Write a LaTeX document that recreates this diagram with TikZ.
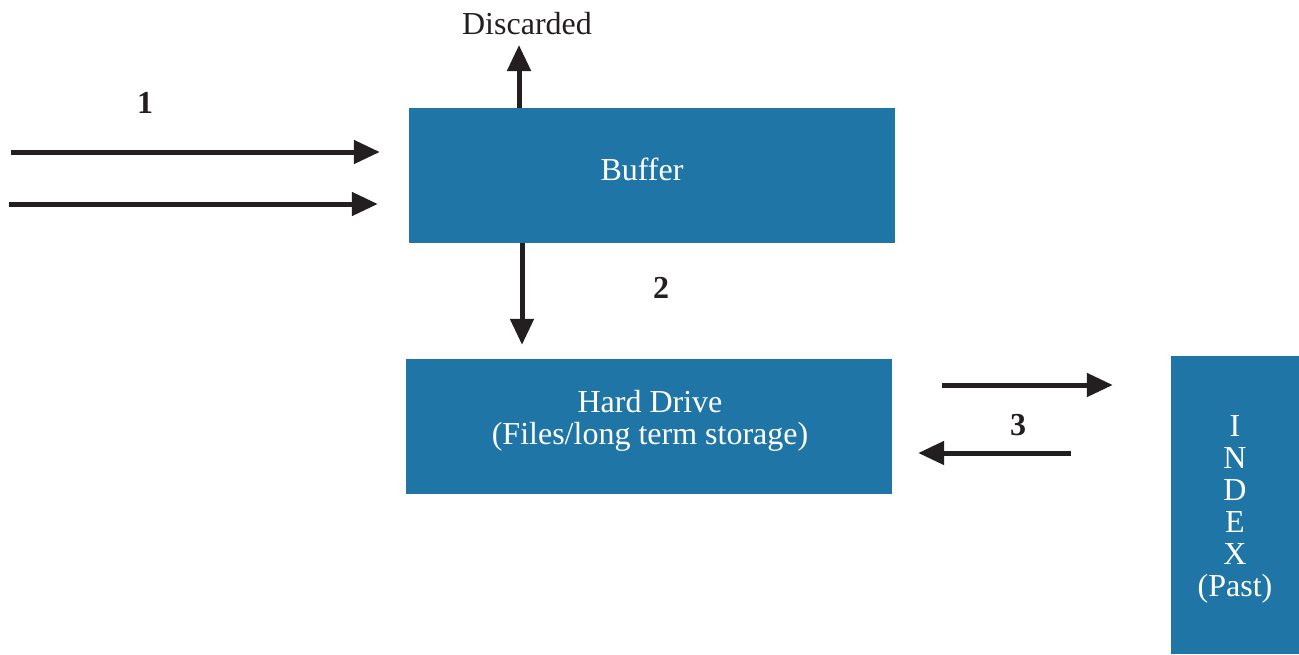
\documentclass[tikz,border=0pt]{standalone}
\usepackage{fontspec}
\setmainfont{Liberation Serif}
\usetikzlibrary{arrows.meta}
\definecolor{boxblue}{RGB}{31,118,166}
\definecolor{ink}{RGB}{35,31,32}
\begin{document}
\begin{tikzpicture}[x=1pt,y=-1pt,
  block/.style={rectangle, fill=boxblue, draw=none, inner sep=0pt},
  intext/.style={text=white, font=\fontsize{32}{32}\selectfont, align=center, inner sep=0pt},
  lbl/.style={text=ink, font=\fontsize{32}{32}\selectfont, inner sep=0pt},
  num/.style={text=ink, font=\fontsize{32}{32}\selectfont\bfseries, inner sep=0pt},
  flow/.style={draw=ink, line width=5pt, -{Triangle[length=26pt,width=23pt]}}]
\useasboundingbox (0,0) rectangle (1299,654);

% storage blocks
\node[block, minimum width=486pt, minimum height=135pt] (buffer) at (652,175.5) {};
\node[block, minimum width=486pt, minimum height=135pt] (disk) at (649,426.5) {};
\node[block, minimum width=128pt, minimum height=298pt] (index) at (1235,505) {};

\node[intext] (buftext) at (642,169) {Buffer};
\node[intext] (disktext) at (650,421) {Hard Drive\\[0pt](Files/long term storage)};
\node[intext, text depth=0pt] (indextext) at (1235,506) {I\\N\\D\\E\\X\\(Past)};

% labels
\node[lbl] (discarded) at (527,24) {Discarded};
\node[num] (one) at (145,103) {1};
\node[num] (two) at (661,288) {2};
\node[num] (three) at (1018,425) {3};

% incoming streams
\coordinate (in1) at (11,152);
\coordinate (in2) at (9,204);
\draw[flow] (in1) -- (in1 -| buffer.west) [shorten >=29pt];
\draw[flow] (in2) -- (in2 -| buffer.west) [shorten >=31pt];

% discarded output
\coordinate (dbase) at (519,108);
\coordinate (dtop) at (519,45);
\draw[flow] (dbase) -- (dtop);

% buffer to hard drive
\draw[flow, shorten >=14pt] (buffer.south -| 522,0) -- (disk.north -| 522,0);

% hard drive <-> index
\coordinate (o3) at (942,385);
\coordinate (i3) at (1071,453);
\draw[flow, shorten >=58pt] (o3) -- (o3 -| index.west);
\draw[flow, shorten >=26pt] (i3) -- (i3 -| disk.east);
\end{tikzpicture}
\end{document}
